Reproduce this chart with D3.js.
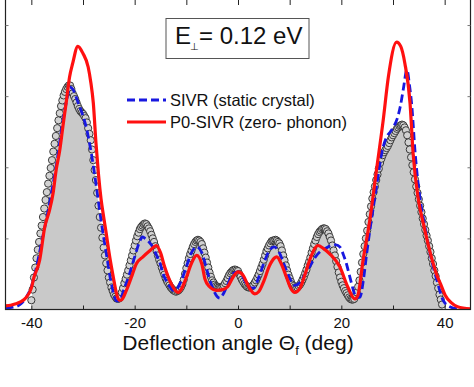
<!DOCTYPE html>
<html><head><meta charset="utf-8">
<script src="https://cdn.jsdelivr.net/npm/d3@7"></script>
<style>
html,body{margin:0;padding:0;background:#fff;}
svg{display:block;font-family:"Liberation Sans",Arial,sans-serif;}
</style></head>
<body>
<svg id="c" width="474" height="387"></svg>
<script>
// ---- data ----
const expStart = -40, expStep = 0.25;
const expValues = [
0.13,0.28,0.45,0.59,0.72,0.84,0.95,1.07,1.18,1.30,1.42,1.54,1.65,1.77,1.88,1.99,
2.10,2.22,2.33,2.44,2.55,2.66,2.76,2.86,2.94,3.01,3.06,3.10,3.13,3.15,3.15,3.10,
3.04,3.00,2.96,2.91,2.86,2.82,2.79,2.77,2.75,2.72,2.69,2.63,2.55,2.47,2.38,2.25,
2.10,1.96,1.82,1.64,1.46,1.30,1.15,1.01,0.87,0.76,0.65,0.55,0.45,0.38,0.31,0.26,
0.21,0.18,0.155,0.15,0.155,0.19,0.24,0.30,0.37,0.43,0.49,0.55,0.62,0.69,0.76,0.83,
0.90,0.97,1.03,1.08,1.13,1.16,1.18,1.20,1.21,1.20,1.17,1.14,1.10,1.05,1.00,0.95,
0.89,0.82,0.76,0.70,0.65,0.59,0.54,0.49,0.44,0.40,0.37,0.34,0.31,0.29,0.27,0.26,
0.25,0.26,0.27,0.29,0.32,0.36,0.42,0.50,0.58,0.65,0.72,0.78,0.83,0.88,0.92,0.95,
0.97,0.98,0.97,0.95,0.92,0.86,0.80,0.73,0.66,0.59,0.52,0.46,0.41,0.38,0.35,0.33,
0.32,0.31,0.31,0.31,0.32,0.34,0.37,0.40,0.44,0.48,0.51,0.53,0.55,0.56,0.56,0.55,
0.54,0.50,0.46,0.42,0.39,0.36,0.34,0.32,0.31,0.31,0.32,0.33,0.35,0.38,0.41,0.45,
0.49,0.54,0.59,0.64,0.70,0.76,0.82,0.86,0.90,0.93,0.96,0.97,0.97,0.98,0.97,0.95,
0.93,0.89,0.83,0.76,0.69,0.62,0.55,0.49,0.44,0.39,0.35,0.33,0.31,0.30,0.31,0.33,
0.35,0.38,0.42,0.46,0.51,0.56,0.62,0.67,0.73,0.80,0.86,0.92,0.97,1.02,1.06,1.09,
1.11,1.13,1.14,1.14,1.13,1.10,1.07,1.02,0.97,0.90,0.83,0.76,0.68,0.60,0.52,0.45,
0.39,0.34,0.30,0.26,0.23,0.20,0.17,0.15,0.14,0.14,0.15,0.19,0.24,0.32,0.41,0.53,
0.66,0.78,0.89,1.00,1.11,1.23,1.34,1.45,1.56,1.65,1.73,1.82,1.90,1.98,2.06,2.12,
2.17,2.21,2.24,2.27,2.30,2.34,2.38,2.42,2.45,2.48,2.51,2.54,2.56,2.58,2.59,2.60,
2.59,2.56,2.52,2.45,2.35,2.25,2.14,2.03,1.93,1.83,1.73,1.64,1.55,1.46,1.37,1.28,
1.20,1.12,1.04,0.97,0.89,0.81,0.72,0.64,0.55,0.47,0.38,0.30,0.21,0.14,0.07];

const sivrAngles = [-45,-43,-42,-41,-40,-39,-38,-37,-36,-35,-34,-33,-32.6,-32,-31,-30,-29.4,-28.4,-27.4,-26.5,-25.5,-24.5,-23.5,-23,
 -22,-21,-20,-19,-18.5,-18,-17,-16.5,-16,-15,-14.5,-14,-13,-12.6,-12,-11,-10,-9,-8,-7,-6,-5,-4,-3.5,-3,-2,-1,0,1,2,3,
 4,5,6,7,8,9,10,11,12,13,14,15,16,17,18,19,19.7,20.5,21,21.5,22,22.5,23,23.6,24.2,24.9,25.7,26.5,27.2,27.8,28.8,29.5,30.1,30.8,31.4,32,32.7,33.2,33.6,34.3,35.2,36.2,37.2,38.5,39.7,41,42.5,45];
const sivrValues = [0.02,0.04,0.08,0.17,0.32,0.6,0.95,1.3,1.68,2.1,2.6,3.0,3.13,3.1,2.92,2.72,2.57,2.2,1.72,1.25,0.79,0.36,0.12,0.12,
 0.3,0.5,0.74,0.96,1.02,1.0,0.93,0.88,0.8,0.63,0.5,0.42,0.3,0.27,0.28,0.4,0.6,0.8,0.88,0.8,0.55,0.32,0.18,0.16,0.2,0.35,0.5,0.53,0.45,0.32,0.3,
 0.45,0.65,0.82,0.88,0.8,0.62,0.44,0.34,0.38,0.5,0.62,0.74,0.82,0.86,0.9,0.91,0.88,0.75,0.64,0.5,0.36,0.23,0.17,0.17,0.38,0.78,1.2,1.58,1.92,2.19,2.43,2.5,2.57,2.68,2.85,3.1,3.37,3.15,2.9,2.19,1.58,1.16,0.78,0.41,0.13,0.04,0.01,0];

const p0Angles = [-45,-44,-43,-42,-41,-40,-39.5,-38.4,-37.4,-36.5,-35.8,-35.2,-34.5,-33.9,-33.2,-32.6,-32,-31,-30,-29,-28.5,-28,-27.5,-27,-26.5,-26,-25.5,-25,-24.5,-24,-23.5,-23,-22.5,
 -21.6,-20.5,-19.7,-18.4,-17,-15.8,-15,-14.2,-12.9,-11.6,-11,-10,-9,-8,-7,-6.4,-5.5,-4.2,-3,-2,-1,0,1,2,3.25,4,5,6,7,7.5,8.5,9.4,10.2,11,12,13,14,15.5,16.5,17.8,19.7,21.3,22.6,
 23.2,24.2,25.5,26.8,28.1,29.1,30.7,31.5,32.3,33.3,33.9,34.9,35.9,37.2,38.5,39.2,40.1,41.2,42.5,45];
const p0Values = [0.05,0.06,0.08,0.11,0.17,0.3,0.45,0.69,1.16,1.39,1.63,1.96,2.24,2.57,2.94,3.27,3.46,3.70,3.6,3.41,3.2,2.9,2.35,1.9,1.55,1.3,1.07,0.82,0.6,0.4,0.22,0.13,0.14,
 0.27,0.48,0.64,0.74,0.83,0.9,0.8,0.6,0.36,0.24,0.28,0.45,0.65,0.76,0.64,0.43,0.32,0.27,0.28,0.32,0.45,0.53,0.48,0.33,0.22,0.25,0.4,0.6,0.72,0.74,0.62,0.45,0.3,0.24,0.3,0.5,0.72,0.9,0.86,0.78,0.6,0.31,0.15,
 0.2,0.69,1.25,1.96,2.66,3.27,3.76,3.7,3.46,2.9,2.19,1.55,1.2,0.8,0.48,0.36,0.2,0.1,0.04,0.01];

const xTicks = [-40,-20,0,20,40];
const xMinor = [-30,-10,10,30];
const yTicks = [1,2,3,4];
const legendLabels = ["SIVR (static crystal)","P0-SIVR (zero- phonon)"];

// ---- drawing ----
const svg = d3.select("#c");
const L=5.5, R=470.5, T=0, B=309.5;
const x = d3.scaleLinear().domain([-45,45]).range([L,R]);
const y = d3.scaleLinear().domain([0,4.352]).range([B,T]);

const expData = expValues.map((v,i)=>[expStart+i*expStep, v]);
const sivr = sivrAngles.map((a,i)=>[a, sivrValues[i]]);
const p0 = p0Angles.map((a,i)=>[a, p0Values[i]]);

svg.append("defs").append("clipPath").attr("id","clip").append("rect")
  .attr("x",L).attr("y",T).attr("width",R-L).attr("height",B-T);
const g = svg.append("g").attr("clip-path","url(#clip)");

g.append("path").datum(expData)
  .attr("d", d3.area().x(d=>x(d[0])).y0(y(0)).y1(d=>y(d[1])).curve(d3.curveMonotoneX))
  .attr("fill","#c9c9c9");

g.selectAll("circle.e").data(expData).join("circle")
  .attr("cx",d=>x(d[0])).attr("cy",d=>y(d[1])).attr("r",3.6)
  .attr("fill","#d2d2d2").attr("stroke","#333").attr("stroke-width",0.95);

const line = d3.line().x(d=>x(d[0])).y(d=>y(d[1])).curve(d3.curveMonotoneX);
g.append("path").datum(sivr).attr("d",line).attr("fill","none")
  .attr("stroke","#1818e0").attr("stroke-width",2.8).attr("stroke-dasharray","8,4");
g.append("path").datum(p0).attr("d",line).attr("fill","none")
  .attr("stroke","#ff1010").attr("stroke-width",3.2).attr("stroke-linejoin","round");

// frame
svg.append("rect").attr("x",L).attr("y",-2).attr("width",R-L).attr("height",B+2)
  .attr("fill","none").attr("stroke","#222").attr("stroke-width",1.2);

// bottom axis (inward ticks)
const bot = svg.append("g").attr("transform",`translate(0,${B})`)
  .call(d3.axisBottom(x).tickValues(xTicks).tickSizeInner(-4).tickSizeOuter(0).tickPadding(8).tickFormat(d=>String(d)));
bot.select(".domain").remove();
bot.selectAll("line").attr("stroke","#222");
bot.selectAll("text").attr("font-size","15px").attr("fill","#111").attr("font-family","Liberation Sans, Arial, sans-serif")
  .attr("y",8).attr("dy","0.71em");
svg.append("g").attr("transform",`translate(0,${B})`)
  .call(d3.axisBottom(x).tickValues(xMinor).tickSizeInner(-4).tickSizeOuter(0).tickFormat(""))
  .call(a=>{a.select(".domain").remove(); a.selectAll("line").attr("stroke","#222");});
// top ticks
svg.append("g").attr("transform",`translate(0,0)`)
  .call(d3.axisTop(x).tickValues(xTicks.concat(xMinor)).tickSizeInner(-5).tickSizeOuter(0).tickFormat(""))
  .call(a=>{a.select(".domain").remove(); a.selectAll("line").attr("stroke","#222");});
// y ticks left/right
svg.append("g").attr("transform",`translate(${L},0)`)
  .call(d3.axisLeft(y).tickValues(yTicks).tickSizeInner(-3).tickSizeOuter(0).tickFormat(""))
  .call(a=>{a.select(".domain").remove(); a.selectAll("line").attr("stroke","#777");});
svg.append("g").attr("transform",`translate(${R},0)`)
  .call(d3.axisRight(y).tickValues(yTicks).tickSizeInner(-3).tickSizeOuter(0).tickFormat(""))
  .call(a=>{a.select(".domain").remove(); a.selectAll("line").attr("stroke","#777");});

// axis title
const t = svg.append("text").attr("x",(L+R)/2).attr("y",350).attr("text-anchor","middle")
  .attr("font-size","21px").attr("fill","#111");
t.append("tspan").text("Deflection angle Θ");
t.append("tspan").attr("font-size","13px").attr("dy","5").text("f");
t.append("tspan").attr("dy","-5").text(" (deg)");

// energy box
svg.append("rect").attr("x",166).attr("y",18.5).attr("width",143).attr("height",40)
  .attr("fill","#fff").attr("stroke","#555").attr("stroke-width",1);
svg.append("text").attr("x",175).attr("y",43.5).attr("font-size","24px").attr("fill","#111").text("E");
svg.append("text").attr("x",189.5).attr("y",50).attr("font-size","9.5px").attr("fill","#111").text("⊥");
svg.append("text").attr("x",199).attr("y",43.5).attr("font-size","24px").attr("fill","#111").text("= 0.12 eV");

// legend
const leg = svg.append("g");
leg.append("line").attr("x1",127).attr("x2",166).attr("y1",100).attr("y2",100)
  .attr("stroke","#1818e0").attr("stroke-width",2.8).attr("stroke-dasharray","8,4");
leg.append("line").attr("x1",127).attr("x2",166).attr("y1",122).attr("y2",122)
  .attr("stroke","#ff1010").attr("stroke-width",3.2);
leg.append("text").attr("x",170).attr("y",106).attr("font-size","16.5px").attr("fill","#111").text(legendLabels[0]);
leg.append("text").attr("x",170).attr("y",128).attr("font-size","16.5px").attr("fill","#111").text(legendLabels[1]);
</script>
</body></html>
